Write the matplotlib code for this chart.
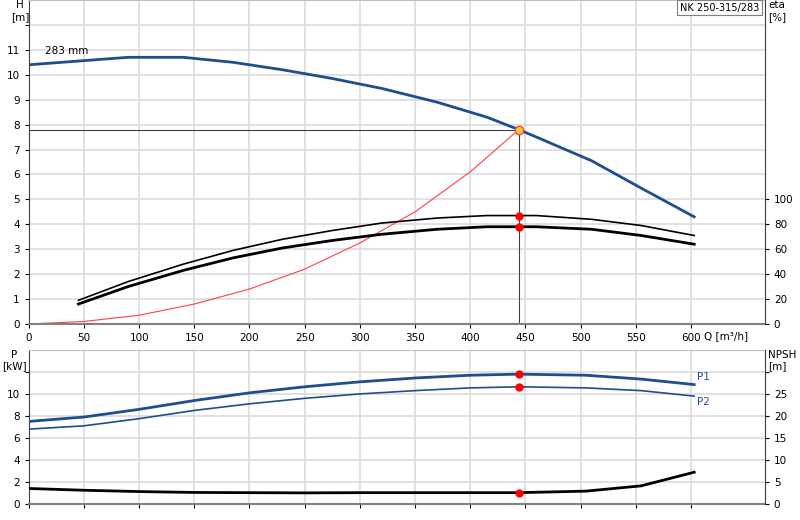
import matplotlib
matplotlib.use("Agg")
import matplotlib.pyplot as plt

q_h = [0, 45, 90, 140, 185, 230, 275, 320, 370, 415, 444, 460, 510, 555, 603]
h = [10.4, 10.55, 10.7, 10.7, 10.5, 10.2, 9.85, 9.45, 8.9, 8.3, 7.8, 7.5, 6.55, 5.45, 4.3]
q_sys = [0, 50, 100, 150, 200, 250, 300, 350, 400, 444]
h_sys = [0, 0.1, 0.35, 0.8, 1.4, 2.2, 3.25, 4.5, 6.1, 7.8]
q_eta = [45, 90, 140, 185, 230, 275, 320, 370, 415, 460, 510, 555, 603]
eta1 = [19, 34, 48, 59, 68, 75, 81, 85, 87, 87, 84, 79, 71]
eta2 = [16, 30, 43, 53, 61, 67, 72, 76, 78, 78, 76, 71, 64]
q_p = [0, 50, 100, 150, 200, 250, 300, 350, 400, 444, 505, 555, 603]
p1 = [7.5, 7.9, 8.6, 9.4, 10.1, 10.65, 11.1, 11.45, 11.7, 11.8, 11.7, 11.35, 10.85]
p2 = [6.8, 7.1, 7.75, 8.5, 9.1, 9.6, 10.0, 10.3, 10.55, 10.65, 10.55, 10.3, 9.8]
npsh = [3.5, 3.1, 2.8, 2.6, 2.55, 2.5, 2.55, 2.55, 2.55, 2.55, 2.9, 4.1, 7.2]
q_duty, h_duty, eta1_duty, eta2_duty = 444, 7.8, 87, 78
p1_duty, p2_duty, npsh_duty = 11.8, 10.65, 2.55

blue = "#1f4e8c"
fig = plt.figure(figsize=(8, 5.2), dpi=100)
ax = fig.add_axes([0.036, 0.377, 0.92, 0.623])
ax2 = fig.add_axes([0.036, 0.031, 0.92, 0.296])
xmax = 667
for a in (ax, ax2):
    a.set_xlim(0, xmax)
    a.set_xticks(range(0, 601, 50))
    a.grid(True, color="#dcdcdc", lw=1.2)
    a.tick_params(labelsize=7.5, length=3)
    for s in ("top", "right"):
        a.spines[s].set_color("#c0c0c0")
    a.spines["left"].set_color("#404040")
    a.spines["bottom"].set_color("#808080")
    a.spines["bottom"].set_linewidth(1.5)

ax.set_ylim(0, 13)
ax.set_yticks(range(0, 13))
ax.set_yticklabels([str(i) for i in range(0, 12)] + [""])
ax.plot(q_h, h, color=blue, lw=2)
ax.plot(q_sys, h_sys, color="#ff4040", lw=0.8)
ax.text(15, 10.85, "283 mm", fontsize=7.5)
ax.axhline(h_duty, xmax=q_duty / xmax, color="#404040", lw=0.8)
ax.axvline(q_duty, ymax=h_duty / 13, color="#404040", lw=0.8)
ax.plot([q_duty], [h_duty], "o", ms=6, mfc="#ffcc33", mec="#ff4040")
ax.text(0.992, 0.992, "NK 250-315/283", transform=ax.transAxes, ha="right", va="top", fontsize=7,
        bbox=dict(fc="white", ec="#808080", lw=0.8, pad=2))
ax.text(-0.012, 1.0, "H\n[m]", transform=ax.transAxes, ha="center", va="top", fontsize=7.5)
ax.text(612, -0.3, "Q [m³/h]", fontsize=7.5, va="top")
ax.set_xticklabels([str(v) for v in range(0, 601, 50)])

axe = ax.twinx()
axe.set_ylim(0, 260)
axe.set_yticks(range(0, 101, 20))
axe.tick_params(labelsize=7.5, length=3)
axe.plot(q_eta, eta1, color="black", lw=1.2)
axe.plot(q_eta, eta2, color="black", lw=2)
axe.plot([q_duty, q_duty], [eta1_duty, eta2_duty], "o", color="red", ms=5)
axe.text(1.005, 1.0, "eta\n[%]", transform=ax.transAxes, ha="left", va="top", fontsize=7.5)
for s in axe.spines.values():
    s.set_visible(False)
axe.spines["right"].set_visible(True)
axe.spines["right"].set_color("#404040")

ax2.set_ylim(0, 14)
ax2.set_yticks(range(0, 13, 2))
ax2.set_yticklabels([str(i) for i in range(0, 11, 2)] + [""])
ax2.set_xticklabels([])
ax2.plot(q_p, p1, color=blue, lw=2)
ax2.plot(q_p, p2, color=blue, lw=1.2)
ax2.plot([q_duty, q_duty], [p1_duty, p2_duty], "o", color="red", ms=5)
ax2.text(606, 11.3, "P1", color=blue, fontsize=7.5)
ax2.text(606, 9.0, "P2", color=blue, fontsize=7.5)
ax2.text(-0.02, 1.0, "P\n[kW]", transform=ax2.transAxes, ha="center", va="top", fontsize=7.5)
axn = ax2.twinx()
axn.set_ylim(0, 35)
axn.set_yticks(range(0, 31, 5))
axn.set_yticklabels([str(i) for i in range(0, 26, 5)] + [""])
axn.tick_params(labelsize=7.5, length=3)
axn.plot(q_p, npsh, color="black", lw=2)
axn.plot([q_duty], [npsh_duty], "o", color="red", ms=5)
axn.text(1.005, 1.0, "NPSH\n[m]", transform=ax2.transAxes, ha="left", va="top", fontsize=7.5)
for s in axn.spines.values():
    s.set_visible(False)
axn.spines["right"].set_visible(True)
axn.spines["right"].set_color("#404040")

fig.savefig("out.png", dpi=100)
